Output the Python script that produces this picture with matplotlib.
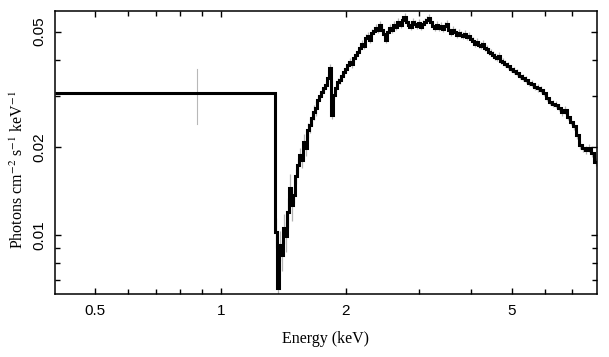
import numpy as np
import matplotlib
matplotlib.use('Agg')
import matplotlib.pyplot as plt

# first (wide) bin below the edge
wide_edges = [0.4, 1.353]
wide_flux = 0.0308
wide_err_lo, wide_err_hi = 0.0241, 0.0372

# spectrum bin edges (keV) above 1.35 keV
edges = [1.353, 1.368, 1.383, 1.399, 1.414, 1.430, 1.446, 1.462, 1.478, 1.495,
         1.511, 1.528, 1.545, 1.563, 1.580, 1.598, 1.615, 1.633, 1.652, 1.670,
         1.689, 1.708, 1.727, 1.746, 1.765, 1.785, 1.805, 1.825, 1.845, 1.866,
         1.887, 1.908, 1.929, 1.950, 1.972, 1.994, 2.016, 2.039, 2.061, 2.084,
         2.108, 2.131, 2.155, 2.179, 2.203, 2.228, 2.252, 2.278, 2.303, 2.329,
         2.355, 2.381, 2.407, 2.434, 2.461, 2.489, 2.516, 2.545, 2.573, 2.602,
         2.631, 2.660, 2.690, 2.720, 2.750, 2.781, 2.812, 2.843, 2.875, 2.907,
         2.939, 2.972, 3.005, 3.039, 3.072, 3.107, 3.141, 3.176, 3.212, 3.248,
         3.284, 3.320, 3.357, 3.395, 3.433, 3.471, 3.510, 3.549, 3.588, 3.628,
         3.669, 3.710, 3.751, 3.793, 3.835, 3.878, 3.921, 3.965, 4.009, 4.053,
         4.099, 4.144, 4.190, 4.237, 4.284, 4.332, 4.380, 4.429, 4.478, 4.528,
         4.578, 4.629, 4.681, 4.733, 4.786, 4.866, 4.948, 5.031, 5.115, 5.201,
         5.288, 5.376, 5.466, 5.558, 5.651, 5.745, 5.842, 5.939, 6.039, 6.140,
         6.243, 6.347, 6.454, 6.562, 6.672, 6.783, 6.897, 7.012, 7.130, 7.249,
         7.371, 7.494, 7.620, 7.747, 7.877, 8.050]

# flux (photons cm^-2 s^-1 keV^-1), one per bin
flux = [0.01024, 0.00658, 0.00924, 0.00854, 0.01057, 0.00992, 0.01199, 0.01451,
        0.01268, 0.01373, 0.01593, 0.01741, 0.01884, 0.01811, 0.02090, 0.01991,
        0.02296, 0.02389, 0.02526, 0.02648, 0.02734, 0.02912, 0.03006, 0.03103,
        0.03202, 0.03280, 0.03467, 0.03752, 0.02587, 0.03030, 0.03202, 0.03359,
        0.03412, 0.03522, 0.03635, 0.03722, 0.03843, 0.03935, 0.03873, 0.04061,
        0.04159, 0.04259, 0.04395, 0.04537, 0.04466, 0.04758, 0.04835, 0.04683,
        0.04951, 0.05030, 0.05150, 0.05070, 0.05274, 0.05070, 0.04912, 0.04683,
        0.04990, 0.05150, 0.05070, 0.05274, 0.05192, 0.05402, 0.05274, 0.05487,
        0.05621, 0.05402, 0.05274, 0.05192, 0.05402, 0.05316, 0.05232, 0.05358,
        0.05192, 0.05316, 0.05402, 0.05487, 0.05575, 0.05402, 0.05232, 0.05150,
        0.05274, 0.05150, 0.05232, 0.05110, 0.05232, 0.05316, 0.05070, 0.04951,
        0.05070, 0.04990, 0.04873, 0.04951, 0.04873, 0.04835, 0.04912, 0.04797,
        0.04835, 0.04721, 0.04646, 0.04537, 0.04610, 0.04501, 0.04466, 0.04537,
        0.04395, 0.04361, 0.04259, 0.04225, 0.04159, 0.04094, 0.04061, 0.04126,
        0.03967, 0.03935, 0.03873, 0.03812, 0.03722, 0.03664, 0.03607, 0.03522,
        0.03467, 0.03412, 0.03332, 0.03306, 0.03228, 0.03202, 0.03152, 0.03078,
        0.02959, 0.02867, 0.02822, 0.02799, 0.02734, 0.02648, 0.02690, 0.02546,
        0.02447, 0.02370, 0.02207, 0.02039, 0.01991, 0.01960, 0.01991, 0.01914,
        0.01782]

# rough relative error per energy range
err_ranges = [1.50, 1.70, 2.10, 9.0]
err_rel = [0.12, 0.06, 0.035, 0.028]

edges = np.array(edges)
flux = np.array(flux)
centers = 0.5 * (edges[:-1] + edges[1:])
rel = np.array(err_rel)[np.searchsorted(err_ranges, centers)]

plt.rcParams['font.family'] = ['Liberation Sans', 'DejaVu Sans']
plt.rcParams['mathtext.fontset'] = 'stix'

fig = plt.figure(figsize=(6.09, 3.57), dpi=100)
ax = fig.add_axes([0.0903, 0.1756, 0.8892, 0.7944])

# grey error bars
ax.errorbar(centers, flux, yerr=rel * flux, fmt='none', ecolor='0.7',
            elinewidth=0.9, zorder=1)
ax.plot([0.877, 0.877], [wide_err_lo, wide_err_hi], color='0.72', lw=0.8,
        zorder=1)

# black histogram line
all_edges = np.concatenate([[wide_edges[0]], edges])
all_flux = np.concatenate([[wide_flux], flux])
ax.stairs(all_flux, all_edges, baseline=None, color='black', lw=2.2, zorder=3)

ax.set_xscale('log')
ax.set_yscale('log')
ax.set_xlim(0.4, 8.0)
ax.set_ylim(0.00625, 0.059)

ax.set_xticks([0.5, 1, 2, 5], ['0.5', '1', '2', '5'])
ax.set_xticks([0.6, 0.7, 0.8, 0.9, 3, 4, 6, 7], minor=True)
ax.set_yticks([0.01, 0.02, 0.05], ['0.01', '0.02', '0.05'])
ax.set_yticks([0.007, 0.008, 0.009, 0.03, 0.04], minor=True)
ax.xaxis.set_minor_formatter(plt.NullFormatter())
ax.yaxis.set_minor_formatter(plt.NullFormatter())

ax.tick_params(which='both', direction='in', top=True, right=True,
               width=1.0, labelsize=11)
ax.tick_params(which='major', length=4.5)
ax.tick_params(which='minor', length=3.5)
ax.tick_params(axis='x', pad=7)
ax.tick_params(axis='y', pad=6)
for lab in ax.get_yticklabels():
    lab.set_rotation(90)
    lab.set_va('center')

for s in ax.spines.values():
    s.set_linewidth(1.1)

ax.set_xlabel('Energy (keV)', family='Liberation Serif', fontsize=11.5,
              labelpad=9)
ax.set_ylabel(r'Photons cm$^{-2}$ s$^{-1}$ keV$^{-1}$',
              family='Liberation Serif', fontsize=11.5)
ax.yaxis.set_label_coords(-0.052, 0.44)

fig.savefig('out.png', dpi=100)
